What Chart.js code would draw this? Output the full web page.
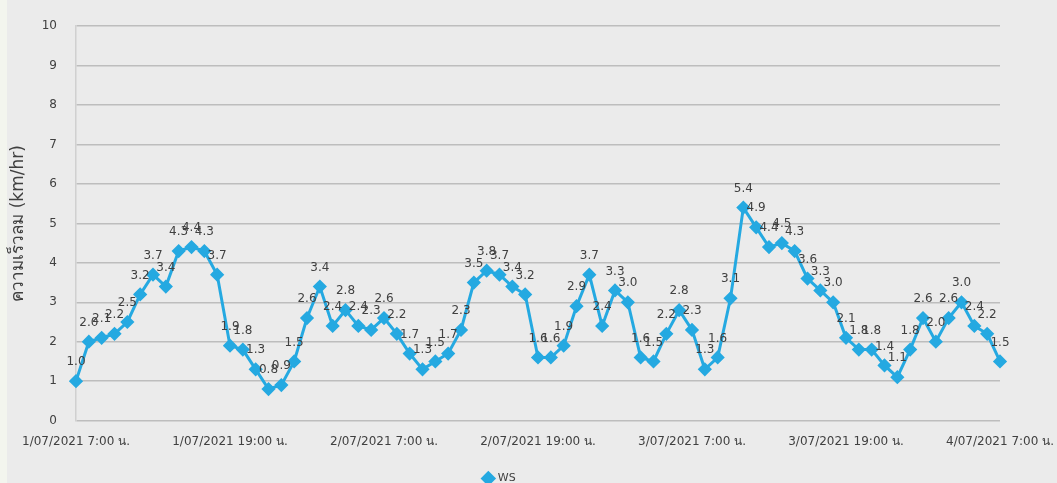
<!DOCTYPE html>
<html>
<head>
<meta charset="utf-8">
<script src="https://cdn.jsdelivr.net/npm/chart.js@4.4.0/dist/chart.umd.min.js"></script>
<style>
  html, body { margin: 0; padding: 0; overflow: hidden; background: #ebebeb; }
  #wrap { position: relative; width: 1057px; height: 494px; }
  #strip { position: absolute; left: 0; top: 0; width: 7px; height: 483px; background: #f3f5ee; }
  #myChart { position: relative; }
</style>
</head>
<body>
<div id="wrap">
  <div id="strip"></div>
  <canvas id="myChart" width="1057" height="494"></canvas>
</div>
<script>
// wind speed, hourly from 1/07/2021 7:00 to 4/07/2021 7:00
var ws_values = [
  1.0, 2.0, 2.1, 2.2, 2.5, 3.2, 3.7, 3.4, 4.3, 4.4, 4.3, 3.7,
  1.9, 1.8, 1.3, 0.8, 0.9, 1.5, 2.6, 3.4, 2.4, 2.8, 2.4, 2.3,
  2.6, 2.2, 1.7, 1.3, 1.5, 1.7, 2.3, 3.5, 3.8, 3.7, 3.4, 3.2,
  1.6, 1.6, 1.9, 2.9, 3.7, 2.4, 3.3, 3.0, 1.6, 1.5, 2.2, 2.8,
  2.3, 1.3, 1.6, 3.1, 5.4, 4.9, 4.4, 4.5, 4.3, 3.6, 3.3, 3.0,
  2.1, 1.8, 1.8, 1.4, 1.1, 1.8, 2.6, 2.0, 2.6, 3.0, 2.4, 2.2,
  1.5
];
var tick_labels = [
  '1/07/2021 7:00 น.', '1/07/2021 19:00 น.',
  '2/07/2021 7:00 น.', '2/07/2021 19:00 น.',
  '3/07/2021 7:00 น.', '3/07/2021 19:00 น.',
  '4/07/2021 7:00 น.'
];
var y_ticks = [0, 1, 2, 3, 4, 5, 6, 7, 8, 9, 10];

// one category per hour, named label every 12 hours
var categories = [];
for (let i = 0; i < ws_values.length; i++) {
  categories.push(i % 12 === 0 ? tick_labels[i / 12] : '');
}

const lineColor = '#25a9e1';
const textColor = '#404040';
const fontName = "'DejaVu Sans', 'Noto Sans', sans-serif";

const valueLabels = {
  id: 'valueLabels',
  afterDatasetsDraw(chart) {
    const ctx = chart.ctx;
    const meta = chart.getDatasetMeta(0);
    ctx.save();
    ctx.font = '12px ' + fontName;
    ctx.fillStyle = textColor;
    ctx.textAlign = 'center';
    ctx.textBaseline = 'middle';
    meta.data.forEach((pt, i) => {
      ctx.fillText(ws_values[i].toFixed(1), pt.x, pt.y - 19);
    });
    ctx.restore();
  }
};

const data = {
  labels: categories,
  datasets: [{
    label: 'WS',
    data: ws_values,
    borderColor: lineColor,
    backgroundColor: lineColor,
    borderWidth: 3,
    pointStyle: 'rectRot',
    pointRadius: 5,
    pointBackgroundColor: lineColor,
    pointBorderColor: lineColor,
    tension: 0
  }]
};

const config = {
  type: 'line',
  data: data,
  plugins: [valueLabels],
  options: {
    responsive: false,
    animation: false,
    layout: { padding: { left: 0, right: 57, top: 17, bottom: 0 } },
    plugins: {
      tooltip: { enabled: false },
      legend: {
        position: 'bottom',
        labels: {
          usePointStyle: true,
          pointStyle: 'rectRot',
          boxWidth: 8,
          boxHeight: 8,
          color: textColor,
          font: { family: fontName, size: 11 }
        }
      }
    },
    scales: {
      x: {
        offset: false,
        grid: { display: false, drawTicks: false },
        border: { display: false },
        afterFit: axis => { axis.paddingLeft = 0; axis.paddingRight = 0; },
        ticks: {
          autoSkip: false,
          maxRotation: 0,
          minRotation: 0,
          padding: 14,
          color: textColor,
          font: { family: fontName, size: 12 }
        }
      },
      y: {
        min: 0,
        max: 10,
        afterBuildTicks: axis => { axis.ticks = y_ticks.map(v => ({ value: v })); },
        afterFit: axis => { axis.width = 76; },
        grid: { color: '#bdbdbd', lineWidth: 1.5, drawTicks: false },
        border: { display: true, color: '#d0d0d0', width: 1.5 },
        title: {
          display: true,
          text: 'ความเร็วลม (km/hr)',
          color: textColor,
          font: { family: fontName, size: 17 },
          padding: { top: 8, bottom: 14 }
        },
        ticks: {
          padding: 19,
          color: textColor,
          font: { family: fontName, size: 12 }
        }
      }
    }
  }
};

var myChart = new Chart(document.getElementById('myChart'), config);
</script>
</body>
</html>
